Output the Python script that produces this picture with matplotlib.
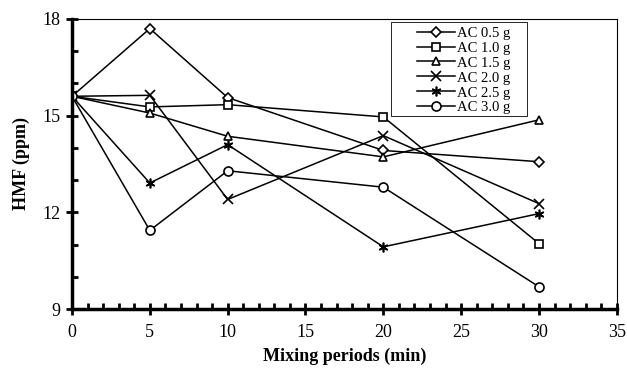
import matplotlib.pyplot as plt
from matplotlib.patches import Rectangle
from matplotlib.ticker import MultipleLocator

plt.rcParams['font.family'] = ['Liberation Serif', 'DejaVu Serif']

# mixing periods (min)
periods = [0, 5, 10, 20, 30]

# HMF (ppm) per activated carbon amount
ac_05 = [15.6, 17.7, 15.56, 13.92, 13.57]
ac_10 = [15.6, 15.27, 15.34, 14.96, 11.03]
ac_15 = [15.6, 15.08, 14.36, 13.72, 14.87]
ac_20 = [15.6, 15.63, 12.4, 14.38, 12.27]
ac_25 = [15.6, 12.91, 14.1, 10.93, 11.96]
ac_30 = [15.6, 11.44, 13.29, 12.78, 9.69]

labels = ['AC 0.5 g', 'AC 1.0 g', 'AC 1.5 g', 'AC 2.0 g', 'AC 2.5 g', 'AC 3.0 g']
series = [ac_05, ac_10, ac_15, ac_20, ac_25, ac_30]
markers = ['D', 's', '^', 'x', (6, 2, 0), 'o']
msizes = [5, 6, 6, 7, 7, 6.5]

fig = plt.figure(figsize=(6.27, 3.71), dpi=100)
ax = fig.add_axes([0.1148, 0.167, 0.869, 0.782])

for vals, lab, m, ms in zip(series, labels, markers, msizes):
    ax.plot(periods, vals, color='black', lw=1.1, marker=m, ms=ms,
            mfc='white', mec='black', mew=1.2, label=lab)

ax.set_xlim(0, 35)
ax.set_ylim(9, 18)
ax.xaxis.set_major_locator(MultipleLocator(5))
ax.xaxis.set_minor_locator(MultipleLocator(1))
ax.yaxis.set_major_locator(MultipleLocator(3))
ax.yaxis.set_minor_locator(MultipleLocator(1))

ax.spines['left'].set_linewidth(2.5)
ax.spines['bottom'].set_linewidth(2.5)
ax.spines['top'].set_linewidth(0.8)
ax.spines['right'].set_linewidth(0.8)

ax.tick_params(which='major', direction='inout', length=9, width=2, labelsize=13)
ax.tick_params(axis='x', which='major', pad=6)
ax.tick_params(which='minor', direction='in', length=4, width=2)
ax.tick_params(top=False, right=False, which='both')

ax.set_xlabel('Mixing periods (min)', fontsize=13, fontweight='bold', labelpad=5)
ax.set_ylabel('HMF (ppm)', fontsize=13, fontweight='bold', labelpad=9)

# legend box drawn separately so the padding matches the original
ax.add_patch(Rectangle((0.585, 0.666), 0.25, 0.324, transform=ax.transAxes,
                       fill=True, facecolor='white', edgecolor='black', lw=0.6,
                       zorder=4))
leg = ax.legend(loc='upper left', bbox_to_anchor=(0.633, 0.974), fontsize=10.5,
                frameon=False, handlelength=2.6, labelspacing=0.12, borderpad=0,
                handletextpad=0.15, borderaxespad=0)
leg.set_zorder(5)

fig.savefig('out.png', dpi=100)
